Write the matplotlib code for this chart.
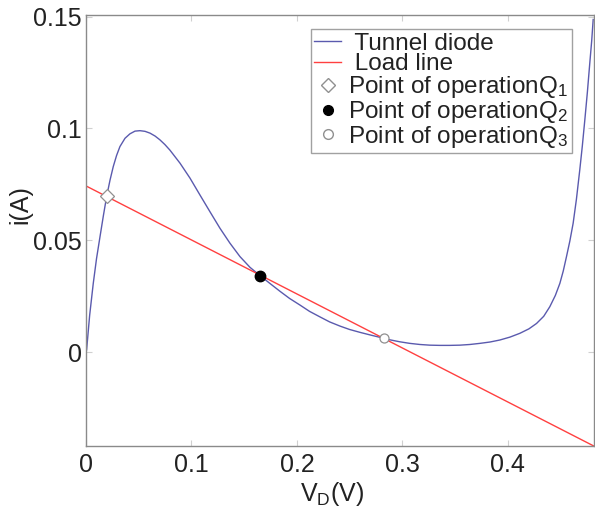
import matplotlib
matplotlib.use("Agg")
import matplotlib.pyplot as plt
from matplotlib.lines import Line2D

plt.rcParams['font.family'] = ['Liberation Sans', 'DejaVu Sans']
plt.rcParams['mathtext.fontset'] = 'custom'
plt.rcParams['mathtext.rm'] = 'Liberation Sans'
plt.rcParams['mathtext.it'] = 'Liberation Sans'

# Tunnel diode characteristic
diode_v = [0.0, 0.0006, 0.0035, 0.0069, 0.01, 0.0133, 0.0165, 0.0196, 0.0228, 0.0259,
           0.029, 0.0322, 0.037, 0.0417, 0.0465, 0.0512, 0.056, 0.0607, 0.0655, 0.0701,
           0.0748, 0.0796, 0.0891, 0.0986, 0.108, 0.1175, 0.127, 0.1365,
           0.146, 0.1555, 0.165, 0.1744, 0.1839, 0.193, 0.203, 0.212, 0.222, 0.231,
           0.241, 0.25, 0.26, 0.27, 0.2787, 0.288, 0.2976, 0.307, 0.3166, 0.326, 0.3355,
           0.345, 0.3545, 0.364, 0.3735, 0.383, 0.3924, 0.402, 0.4114, 0.42,
           0.4272, 0.434, 0.4398, 0.445, 0.4493, 0.4525, 0.4556, 0.4588, 0.4619, 0.465,
           0.4682, 0.4706, 0.473, 0.4754, 0.4777, 0.4795, 0.4809]
diode_i = [0.0, 0.001, 0.0165, 0.0307, 0.0418, 0.0516, 0.061, 0.0696, 0.0769, 0.083,
           0.0879, 0.0919, 0.0956, 0.0976, 0.0988, 0.099, 0.0987, 0.0979, 0.0966, 0.0949,
           0.0928, 0.0903, 0.0845, 0.0778, 0.0703, 0.0628, 0.0554, 0.0487,
           0.0427, 0.0379, 0.0342, 0.0307, 0.0272, 0.024, 0.021, 0.0182, 0.0157, 0.0135,
           0.0116, 0.0101, 0.0088, 0.0076, 0.0066, 0.0055, 0.0046, 0.0039, 0.0034, 0.0031,
           0.003, 0.003, 0.0031, 0.0034, 0.0039, 0.0045, 0.0054, 0.0067, 0.0084, 0.0104,
           0.0128, 0.016, 0.0203, 0.0253, 0.0307, 0.0362, 0.0427, 0.0497, 0.0576, 0.0683,
           0.0815, 0.0921, 0.1039, 0.1162, 0.1293, 0.1392, 0.1487]

# Load line end points
load_v = [0.0, 0.4815]
load_i = [0.0743, -0.042]

# Operating points
q_v = [0.0196, 0.165, 0.2825]
q_i = [0.0696, 0.0342, 0.0061]

x_ticks = [0, 0.1, 0.2, 0.3, 0.4]
x_ticklabels = ['0', '0.1', '0.2', '0.3', '0.4']
y_ticks = [0, 0.05, 0.1, 0.15]
y_ticklabels = ['0', '0.05', '0.1', '0.15']

fig = plt.figure(figsize=(5.95, 5.08), dpi=100)
ax = fig.add_axes([0.1445, 0.122, 0.8535, 0.8475])

blue = '#5a5aae'
red = '#ff4040'
ax.plot(diode_v, diode_i, color=blue, lw=1.0)
ax.plot(load_v, load_i, color=red, lw=1.0)
ax.plot(q_v[0], q_i[0], marker='D', ms=7.5, mfc='white', mec='#909090', mew=0.9, ls='none')
ax.plot(q_v[1], q_i[1], marker='o', ms=7.5, mfc='black', mec='black', ls='none')
ax.plot(q_v[2], q_i[2], marker='o', ms=6.5, mfc='white', mec='#909090', mew=0.9, ls='none')

ax.set_xlim(0, 0.4815)
ax.set_ylim(-0.042, 0.1505)
ax.set_xticks(x_ticks)
ax.set_xticklabels(x_ticklabels)
ax.set_yticks(y_ticks)
ax.set_yticklabels(y_ticklabels)
ax.tick_params(direction='in', length=4, color='#d0d0d0', labelsize=18,
               labelcolor='#222222', top=True, right=True)
ax.tick_params(axis='y', pad=3)
ax.tick_params(axis='x', pad=5)
for s in ax.spines.values():
    s.set_color('#8a8a8a')
    s.set_linewidth(1.0)

ax.set_xlabel('V$_{\\mathregular{D}}$(V)', fontsize=18, color='#222222')
ax.set_ylabel('i(A)', fontsize=18, color='#222222')
ax.xaxis.set_label_coords(0.484, -0.078)
ax.yaxis.set_label_coords(-0.106, 0.562)

handles = [
    Line2D([], [], color=blue, lw=1.0),
    Line2D([], [], color=red, lw=1.0),
    Line2D([], [], marker='D', ms=7, mfc='white', mec='#909090', ls='none'),
    Line2D([], [], marker='o', ms=7, mfc='black', mec='black', ls='none'),
    Line2D([], [], marker='o', ms=7, mfc='white', mec='#909090', ls='none'),
]
labels = [' Tunnel diode', ' Load line',
          'Point of operationQ$_{\\mathregular{1}}$',
          'Point of operationQ$_{\\mathregular{2}}$',
          'Point of operationQ$_{\\mathregular{3}}$']
leg = ax.legend(handles, labels, loc='upper right', bbox_to_anchor=(0.957, 0.9686),
                fontsize=17.5, frameon=True, fancybox=False, handlelength=1.1,
                handletextpad=0.3, labelspacing=-0.05, borderpad=0.15,
                borderaxespad=0.0)
leg.get_frame().set_edgecolor('#8a8a8a')
leg.get_frame().set_linewidth(1.0)
for t in leg.get_texts():
    t.set_color('#222222')

fig.savefig('out.png', dpi=100)
